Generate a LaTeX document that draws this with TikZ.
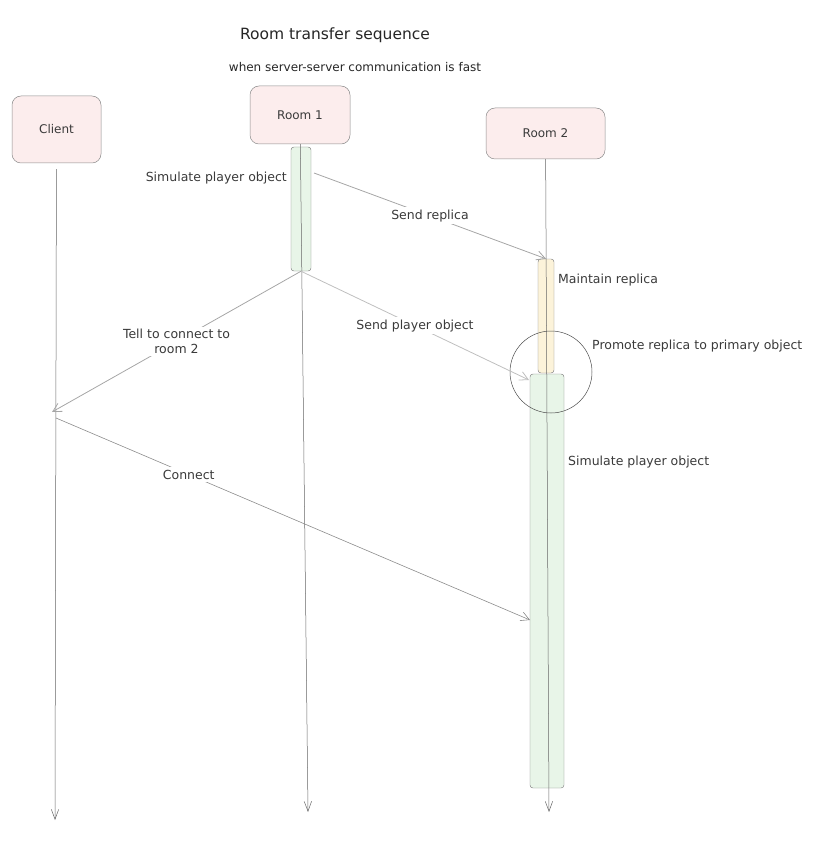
\documentclass[tikz,border=0pt]{standalone}
\usepackage{fontspec}
\setmainfont{DejaVu Sans}
\usetikzlibrary{arrows.meta,positioning}
\definecolor{inkgray}{HTML}{3A3A3A}
\definecolor{boxpink}{HTML}{FCEDED}
\definecolor{bargreen}{HTML}{E8F5E8}
\definecolor{baryellow}{HTML}{FCF3DA}

\begin{document}
\begin{tikzpicture}[x=1pt,y=-1pt]
\tikzset{
  actorbox/.style={rectangle,rounded corners=9pt,draw=black!45,line width=0.5pt,fill=boxpink,font=\fontsize{12}{14}\selectfont,text=inkgray},
  actbar/.style={rectangle,rounded corners=3pt,draw=black!50,line width=0.45pt,inner sep=0pt},
  lifeline/.style={draw=black!60,line width=0.5pt,-{Straight Barb[length=3.5mm,width=2.6mm]}},
  message/.style={draw=black!35,line width=0.8pt,-{Straight Barb[length=3mm,width=3.2mm]}},
  msglabel/.style={fill=white,inner sep=2.5pt,font=\fontsize{12.5}{15}\selectfont,text=inkgray,align=center},
  notetext/.style={inner sep=0pt,font=\fontsize{12.5}{15}\selectfont,text=inkgray}
}
\useasboundingbox (0,0) rectangle (817,842);
% titles
\node[inner sep=0pt,font=\fontsize{15.5}{18}\selectfont,text=black!85] (t_title) at (335,35) {Room transfer sequence};
\node[inner sep=0pt,font=\fontsize{12}{14}\selectfont,text=black!85] (t_sub) at (355,67) {when server-server communication is fast};
% actors
\node[actorbox,minimum width=89pt,minimum height=67pt] (n_client) at (56.5,129.5) {Client};
\node[actorbox,minimum width=100pt,minimum height=58pt] (n_room1) at (300,115) {Room 1};
\node[actorbox,minimum width=119pt,minimum height=51pt] (n_room2) at (545.5,133.5) {Room 2};
% activation bars
\node[actbar,fill=bargreen,minimum width=20pt,minimum height=124pt] (n_sim1) at (301,209) {};
\node[actbar,fill=baryellow,minimum width=16pt,minimum height=114pt] (n_replica) at (546,316) {};
\node[actbar,fill=bargreen,minimum width=34pt,minimum height=414pt] (n_sim2) at (547,581) {};
% lifeline ends and message points
\coordinate (e_client) at (55,820);
\coordinate (e_room1) at (308,812);
\coordinate (e_room2) at (549,812);
\coordinate (c_replica) at (314,173);
\coordinate (c_told) at (52,412);
\coordinate (c_connect) at (56,418);
\coordinate (c_sim2top) at (529,380);
\coordinate (c_sim2in) at (530,620);
% lifelines
\draw[lifeline,shorten <=6pt] (n_client) -- (e_client);
\draw[lifeline] (n_room1) -- (e_room1);
\draw[lifeline] (n_room2) -- (e_room2);
% promotion
\node[circle,draw=black!70,line width=0.5pt,minimum size=82pt,inner sep=0pt] (n_promote) at (551,372) {};
% messages
\draw[message] (c_replica) -- (n_replica.north) node[msglabel,pos=0.5] {Send replica};
\draw[message] (n_sim1.south) -- (c_told) node[msglabel,pos=0.5] {Tell to connect to\\room 2};
\draw[message,draw=black!25] (n_sim1.south) -- (c_sim2top) node[msglabel,pos=0.5] {Send player object};
\draw[message,line width=0.6pt,draw=black!45] (c_connect) -- (c_sim2in) node[msglabel,pos=0.28] {Connect};
% notes
\node[notetext,anchor=east] (l_sim1) at (287,178) {Simulate player object};
\node[notetext,anchor=west] (l_replica) at (558,280) {Maintain replica};
\node[notetext,anchor=west] (l_promote) at (592,346) {Promote replica to primary object};
\node[notetext,anchor=west] (l_sim2) at (568,462) {Simulate player object};
\end{tikzpicture}
\end{document}
